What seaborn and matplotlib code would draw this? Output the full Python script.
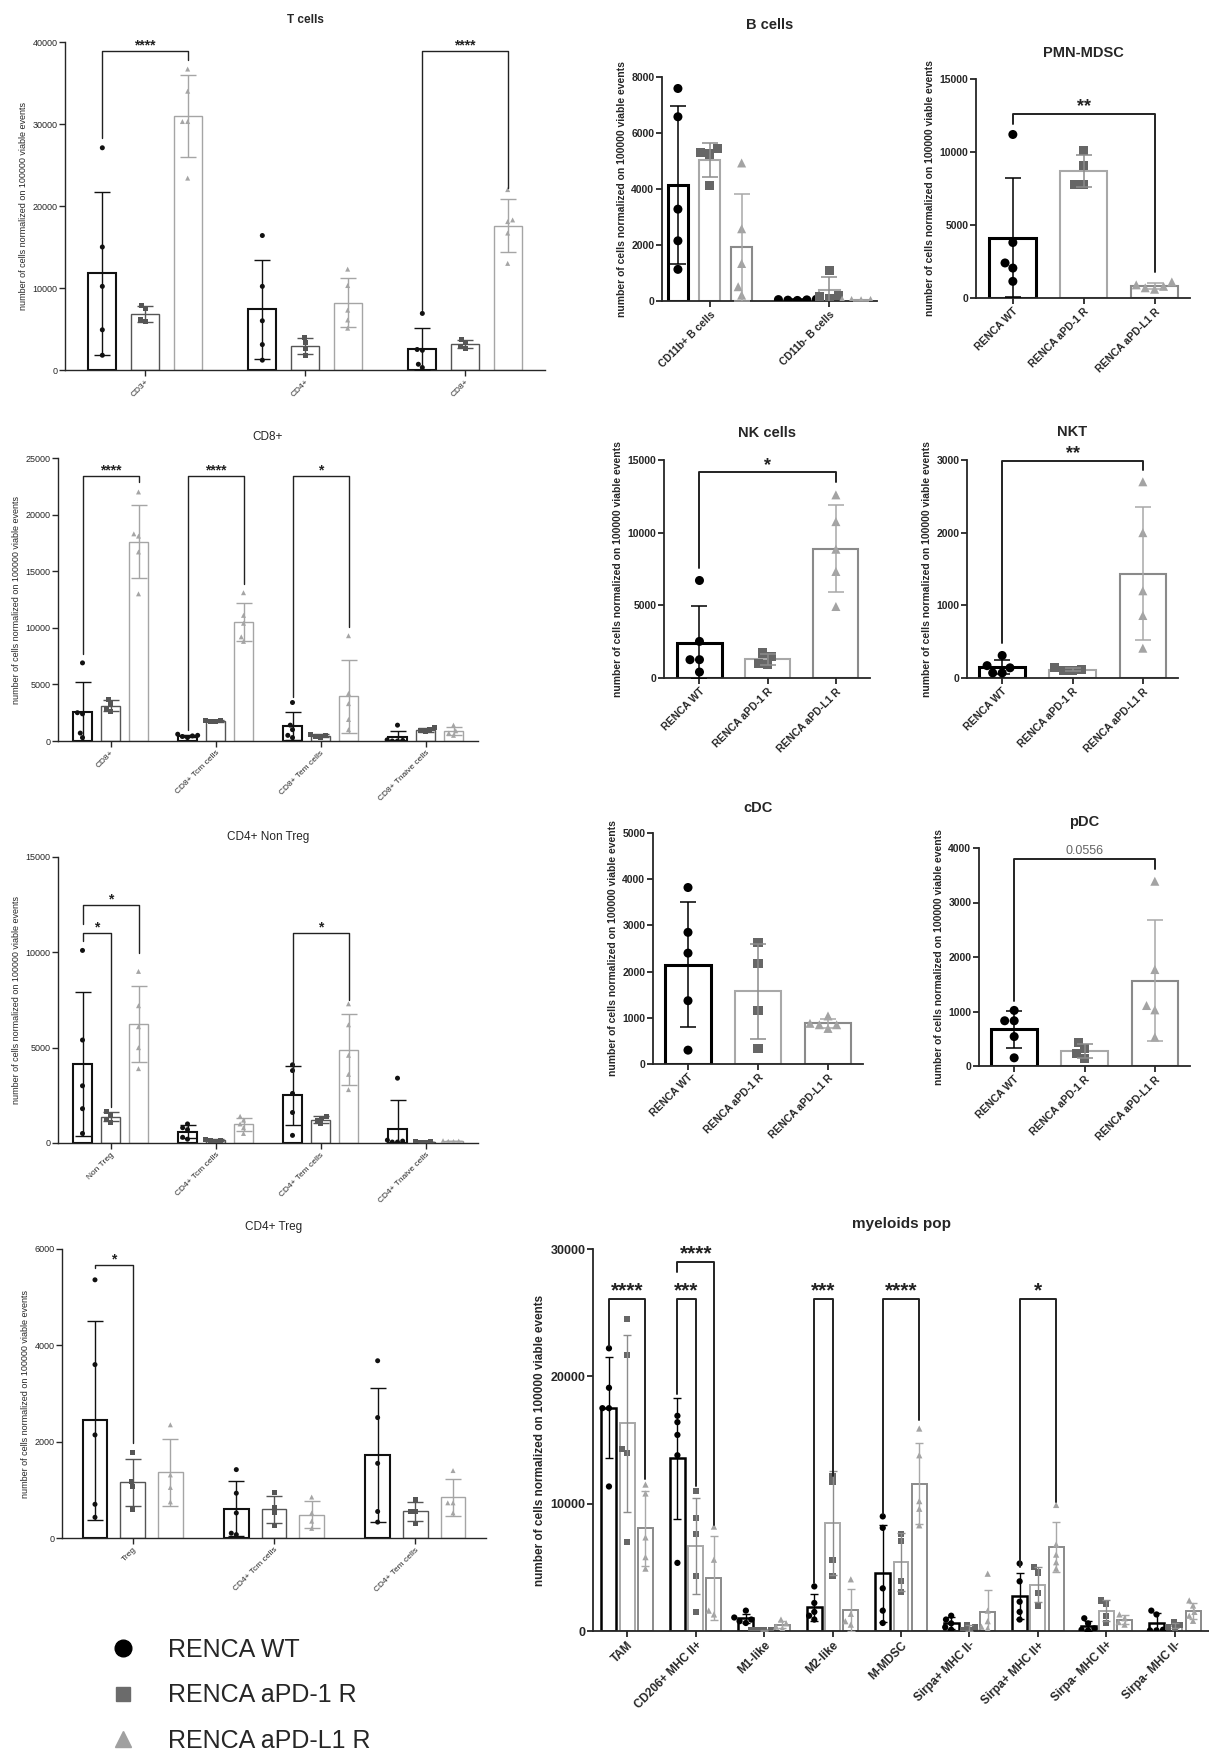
import numpy as np
import pandas as pd
import matplotlib.pyplot as plt
import matplotlib.colors as mcolors
import seaborn as sns
from matplotlib.lines import Line2D

sns.set_style('ticks')
plt.rcParams['font.family'] = ['Liberation Sans', 'DejaVu Sans']

W, H = 1209, 1762

conds = ['RENCA WT', 'RENCA aPD-1 R', 'RENCA aPD-L1 R']
markers = ['o', 's', '^']
ylab = 'number of cells normalized on 100000 viable events'

# T cells
tc_groups = ['CD3+', 'CD4+', 'CD8+']
tc_wt = [[27100, 15000, 10200, 4900, 1800], [16400, 10200, 6000, 3100, 1200], [6900, 2500, 2400, 700, 300]]
tc_pd1 = [[7900, 7500, 6200, 5900], [4000, 3400, 2600, 1800], [3700, 3300, 2900, 2600]]
tc_pdl1 = [[36700, 34000, 30300, 30300, 23400], [12300, 10300, 7300, 6100, 5100], [22000, 18300, 18100, 16700, 13000]]
tc_sig = [(0, 0, 2, 38900, 28300, 37800, '****'), (2, 0, 2, 38900, 7300, 22200, '****')]

# CD8+
cd8_groups = ['CD8+', 'CD8+ Tcm cells', 'CD8+ Tem cells', 'CD8+ Tnaive cells']
cd8_wt = [[6900, 2500, 2400, 700, 300], [600, 500, 450, 400, 300], [3400, 1400, 1000, 500, 300], [1400, 100, 50, 0, 0]]
cd8_pd1 = [[3700, 3300, 2900, 2600], [1850, 1800, 1750, 1700], [600, 500, 400, 300], [1200, 1050, 950, 800]]
cd8_pdl1 = [[22000, 18300, 18100, 16700, 13000], [13100, 11100, 10400, 9200, 8800], [9300, 4200, 3300, 1900, 1000], [1400, 900, 700, 500]]
cd8_sig = [(0, 0, 2, 23400, 7700, 22900, '****'), (1, 0, 2, 23400, 1000, 13900, '****'), (2, 0, 2, 23400, 3900, 10100, '*')]

# CD4+ Non Treg
nt_groups = ['Non Treg', 'CD4+ Tcm cells', 'CD4+ Tem cells', 'CD4+ Tnaive cells']
nt_wt = [[10100, 5400, 3000, 1800, 500], [1000, 800, 700, 300, 200], [4100, 3800, 2600, 1600, 400], [3400, 150, 100, 50, 50]]
nt_pd1 = [[1650, 1500, 1250, 1100], [200, 150, 120, 100], [1400, 1300, 1200, 1000], [80, 60, 50, 40]]
nt_pdl1 = [[9000, 7200, 6100, 5000, 3900], [1400, 1200, 1000, 800, 500], [7300, 6200, 4600, 3600, 2800], [120, 100, 90, 80]]
nt_sig = [(0, 0, 2, 12460, 11500, 9950, '*'), (0, 0, 1, 11000, 10600, 1900, '*'), (2, 0, 2, 11000, 3700, 7500, '*')]

# CD4+ Treg
tr_groups = ['Treg', 'CD4+ Tcm cells', 'CD4+ Tem cells']
tr_wt = [[5360, 3600, 2140, 700, 430], [1420, 930, 520, 100, 70], [3680, 2500, 1550, 550, 330]]
tr_pd1 = [[1780, 1170, 1070, 590], [950, 640, 520, 260], [800, 550, 550, 310]]
tr_pdl1 = [[2350, 1310, 1050, 750], [850, 520, 350, 200], [1400, 730, 730, 520]]
tr_sig = [(0, 0, 1, 5670, 5600, 1970, '*')]

# B cells
b_groups = ['CD11b+ B cells', 'CD11b- B cells']
b_wt = [[7590, 6580, 3280, 2150, 1130], [60, 50, 40, 30, 20]]
b_pd1 = [[5450, 5300, 5250, 4140], [1080, 200, 150, 100]]
b_pdl1 = [[4930, 2580, 1340, 510, 210], [40, 30, 20, 20, 10]]

# single population panels
pmn_wt = [11200, 3800, 2400, 2050, 1140]
pmn_pd1 = [10100, 9060, 7800, 7800]
pmn_pdl1 = [1100, 900, 800, 700, 600]
pmn_sig = [(0, 0, 2, 12600, 11900, 1800, '**')]

nk_wt = [6710, 2520, 1260, 1260, 410]
nk_pd1 = [1720, 1490, 1030, 920]
nk_pdl1 = [12600, 10760, 8860, 7330, 4920]
nk_sig = [(0, 0, 2, 14150, 7560, 13500, '*')]

nkt_wt = [310, 170, 140, 70, 70]
nkt_pd1 = [140, 120, 100, 100]
nkt_pdl1 = [2700, 2000, 1200, 860, 410]
nkt_sig = [(0, 0, 2, 2990, 480, 2860, '**')]

cdc_wt = [3820, 2850, 2400, 1370, 300]
cdc_pd1 = [2630, 2170, 1150, 340]
cdc_pdl1 = [1040, 880, 850, 850, 770]

pdc_wt = [1020, 830, 830, 540, 150]
pdc_pd1 = [440, 320, 230, 130]
pdc_pdl1 = [3390, 1770, 1110, 1030, 530]
pdc_sig = [(0, 0, 2, 3790, 1200, 3620, '0.0556')]

# myeloids
my_groups = ['TAM', 'CD206+ MHC II+', 'M1-like', 'M2-like', 'M-MDSC',
             'Sirpa+ MHC II-', 'Sirpa+ MHC II+', 'Sirpa- MHC II+', 'Sirpa- MHC II-']
my_wt = [[22200, 19100, 17500, 17500, 11350], [16900, 16400, 15400, 13800, 5350], [1600, 1060, 900, 770, 630],
         [3500, 2200, 1500, 1200, 900], [9000, 8100, 3350, 1600, 630], [1200, 900, 600, 300, 100],
         [5300, 3900, 2300, 1500, 900], [1000, 600, 200, 100, 50], [1600, 1300, 100, 50, 50]]
my_pd1 = [[24500, 21700, 14300, 14000, 7000], [11000, 8900, 7600, 4300, 1500], [60, 50, 40, 30],
          [12200, 11700, 5600, 4300], [7600, 7060, 3900, 3060], [500, 300, 100, 50],
          [5000, 4600, 3000, 2000], [2400, 2100, 1200, 600], [700, 500, 300, 200]]
my_pdl1 = [[11500, 10800, 7350, 5800, 4900], [8200, 5600, 1600, 1300], [900, 600, 340, 200],
           [4060, 1350, 770, 500], [15900, 13800, 10200, 9600, 8300], [4500, 1600, 770, 340, 200],
           [9900, 6800, 6000, 5400, 4900], [1300, 1000, 700, 500], [2400, 2000, 1500, 1200, 800]]
my_sig = [(0, 0, 2, 26100, 22400, 11900, '****'), (1, 0, 1, 26100, 18600, 11350, '***'),
          (1, 0, 2, 29000, 28200, 8350, '****'), (3, 0, 1, 26100, 3800, 12200, '***'),
          (4, 0, 2, 26100, 9200, 16600, '****'), (6, 0, 2, 26100, 5060, 10100, '*')]

left = dict(width=0.8, gap=0.34, lw=1.0, lw_wt=1.5, elw=1.0, cap=6, ms=3.6, tick=6.5, xtick=6,
            yl=6.5, fw='normal', tfs=8.5, tw='normal', spw=1.0, blw=1.0, star=10,
            edge=['#111111', '#555555', '#a5a5a5'], err=['#111111', '#555555', '#a5a5a5'],
            mk=['#111111', '#555555', '#a5a5a5'])
right = dict(width=0.66, gap=0, lw=1.5, lw_wt=2.2, elw=1.1, cap=6, ms=6.5, tick=7.5, xtick=7.5,
             yl=7.5, fw='bold', tfs=10.5, tw='bold', spw=1.3, blw=1.4, star=13,
             edge=['#000000', '#a8a8a8', '#8a8a8a'], err=['#000000', '#8c8c8c', '#a8a8a8'],
             mk=['#000000', '#666666', '#a3a3a3'])
bstyle = dict(right, width=0.8, gap=0.35)
myst = dict(right, width=0.8, gap=0.18, lw=1.4, lw_wt=1.8, elw=1.0, cap=3, ms=4.5, tick=9, xtick=8.5,
            yl=8.5, tfs=11, star=15)

fig = plt.figure(figsize=(W / 100, H / 100), dpi=100)


def box(l, r, t, b):
    return fig.add_axes([l / W, 1 - b / H, (r - l) / W, (b - t) / H])


def make_df(groups, per_cond):
    rows = []
    for cond, vals in zip(conds, per_cond):
        if groups is None:
            vals = [vals]
        for gi, pts in enumerate(vals):
            g = cond if groups is None else groups[gi]
            for v in pts:
                rows.append((g, cond, v))
    return pd.DataFrame(rows, columns=['group', 'cond', 'val'])


def panel(ax, groups, per_cond, s, title, tdy, ymax, ystep, xlim, sig=()):
    single = groups is None
    df = make_df(groups, per_cond)
    order = conds if single else groups
    sns.barplot(data=df, x='group', y='val', hue='cond', order=order, hue_order=conds,
                palette=s['edge'], fill=False, errorbar=None, width=s['width'], gap=s['gap'],
                linewidth=s['lw'], legend=False, ax=ax)
    for p in ax.patches:
        if mcolors.to_hex(p.get_edgecolor()) == s['edge'][0]:
            p.set_linewidth(s['lw_wt'])

    def xpos(gi, ci):
        return ci if single else gi + (ci - 1) * s['width'] / 3

    stats = df.groupby(['group', 'cond'])['val'].agg(['mean', 'std'])
    ng = 1 if single else len(groups)
    for ci, cond in enumerate(conds):
        keys = [(cond, cond)] if single else [(g, cond) for g in groups]
        xs = [xpos(gi, ci) for gi in range(ng)]
        ax.errorbar(xs, [stats.loc[k, 'mean'] for k in keys], yerr=[stats.loc[k, 'std'] for k in keys],
                    fmt='none', ecolor=s['err'][ci], elinewidth=s['elw'], capsize=s['cap'],
                    capthick=s['elw'], zorder=4)
    for ci, cond in enumerate(conds):
        sns.swarmplot(data=df[df['cond'] == cond], x='group', y='val', hue='cond', order=order,
                      hue_order=conds, palette=s['mk'], dodge=not single, marker=markers[ci],
                      size=s['ms'], linewidth=0, legend=False, ax=ax, zorder=3)

    for gi, ca, cb, yb, yl, yr, lab in sig:
        xa, xb = xpos(gi, ca), xpos(gi, cb)
        ax.plot([xa, xa, xb, xb], [yl, yb, yb, yr], color='#222222', lw=s['blw'], clip_on=False, zorder=5)
        if lab[0].isdigit():
            ax.annotate(lab, ((xa + xb) / 2, yb), xytext=(0, 2), textcoords='offset points', ha='center',
                        va='bottom', fontsize=9, color='#666666', annotation_clip=False)
        else:
            ax.annotate(lab, ((xa + xb) / 2, yb), xytext=(0, -1), textcoords='offset points', ha='center',
                        va='bottom', fontsize=s['star'], fontweight='bold', color='#222222',
                        annotation_clip=False)

    ax.set_ylim(0, ymax)
    ax.set_yticks(np.arange(0, ymax + 1, ystep))
    ax.set_xlim(*xlim)
    ax.set_xlabel('')
    ax.set_ylabel(ylab, fontsize=s['yl'], fontweight=s['fw'], labelpad=3)
    ax.annotate(title, (0.5, 1), xycoords='axes fraction', xytext=(0, tdy * 0.72), textcoords='offset points',
                ha='center', va='center', fontsize=s['tfs'], fontweight=s['tw'])
    ax.tick_params(axis='y', labelsize=s['tick'], width=s['spw'], length=4, pad=1.5)
    ax.tick_params(axis='x', labelsize=s['xtick'], width=s['spw'], length=4, pad=2)
    plt.setp(ax.get_yticklabels(), fontweight=s['fw'])
    plt.setp(ax.get_xticklabels(), rotation=45, ha='right', rotation_mode='anchor', fontweight=s['fw'])
    sns.despine(ax=ax)
    for sp in ['left', 'bottom']:
        ax.spines[sp].set_linewidth(s['spw'])


panel(box(65, 545, 42, 370), tc_groups, [tc_wt, tc_pd1, tc_pdl1], dict(left, tw='bold'), 'T cells', 22,
      40000, 10000, (-0.5, 2.5), tc_sig)
panel(box(58, 478, 458, 741), cd8_groups, [cd8_wt, cd8_pd1, cd8_pdl1], left, 'CD8+', 21,
      25000, 5000, (-0.5, 3.5), cd8_sig)
panel(box(58, 478, 857, 1143), nt_groups, [nt_wt, nt_pd1, nt_pdl1], left, 'CD4+ Non Treg', 20,
      15000, 5000, (-0.5, 3.5), nt_sig)
panel(box(62, 486, 1249, 1538), tr_groups, [tr_wt, tr_pd1, tr_pdl1], left, 'CD4+ Treg', 22,
      6000, 2000, (-0.5, 2.5), tr_sig)

panel(box(662, 877, 77, 301), b_groups, [b_wt, b_pd1, b_pdl1], bstyle, 'B cells', 52,
      8000, 2000, (-0.4, 1.4))
panel(box(976, 1190, 79, 298), None, [pmn_wt, pmn_pd1, pmn_pdl1], right, 'PMN-MDSC', 26,
      15000, 5000, (-0.52, 2.5), pmn_sig)
panel(box(664, 870, 460, 678), None, [nk_wt, nk_pd1, nk_pdl1], right, 'NK cells', 27,
      15000, 5000, (-0.52, 2.5), nk_sig)
panel(box(967, 1178, 460, 678), None, [nkt_wt, nkt_pd1, nkt_pdl1], right, 'NKT', 28,
      3000, 1000, (-0.5, 2.5), nkt_sig)
panel(box(653, 863, 833, 1064), None, [cdc_wt, cdc_pd1, cdc_pdl1], right, 'cDC', 25,
      5000, 1000, (-0.5, 2.5))
panel(box(979, 1190, 848, 1066), None, [pdc_wt, pdc_pd1, pdc_pdl1], right, 'pDC', 26,
      4000, 1000, (-0.5, 2.5), pdc_sig)

panel(box(593, 1209, 1249, 1631), my_groups, [my_wt, my_pd1, my_pdl1], myst, 'myeloids pop', 25,
      30000, 10000, (-0.5, 8.5), my_sig)

handles = [Line2D([], [], ls='', marker='o', color='black', ms=12),
           Line2D([], [], ls='', marker='s', color='#6b6b6b', ms=10),
           Line2D([], [], ls='', marker='^', color='#a0a0a0', ms=12)]
fig.legend(handles, conds, loc='upper left', bbox_to_anchor=(110 / W, 1 - 1638 / H), frameon=False,
           fontsize=18, handlelength=1.0, handletextpad=1.3, labelspacing=0.85, borderpad=0, borderaxespad=0)

fig.savefig('out.png', dpi=100)
